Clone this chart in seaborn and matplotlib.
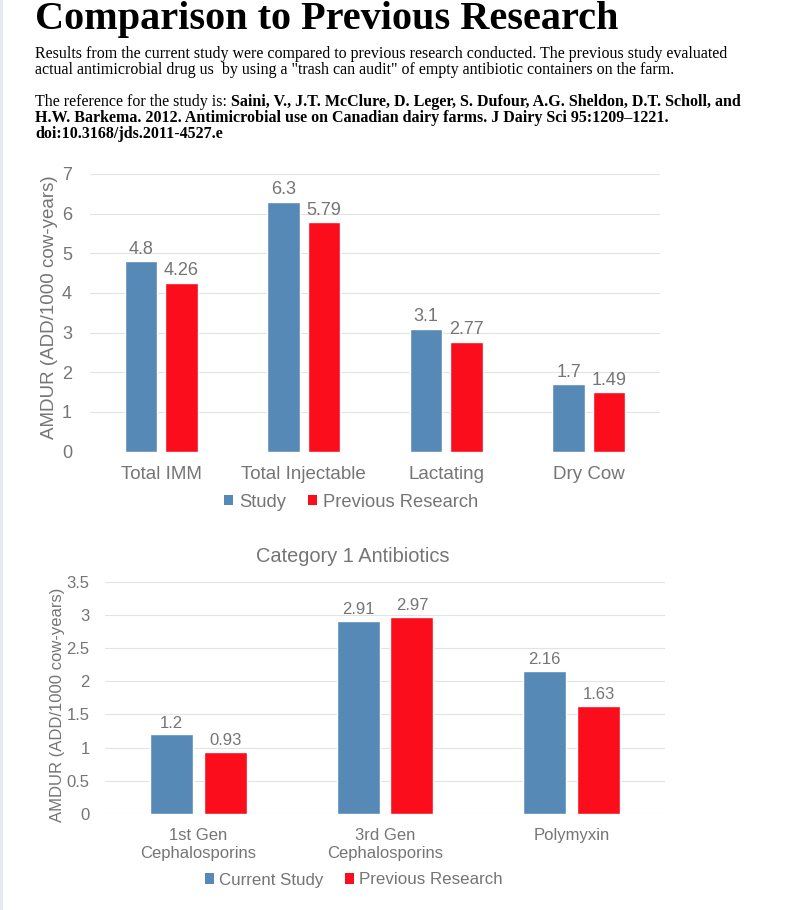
import matplotlib
matplotlib.use("Agg")
import matplotlib.pyplot as plt
import seaborn as sns
import pandas as pd
from matplotlib.patches import Patch, Rectangle

# ---------------- data ----------------
categories1 = ["Total IMM", "Total Injectable", "Lactating", "Dry Cow"]
series1 = ["Study", "Previous Research"]
study1 = [4.8, 6.3, 3.1, 1.7]
previous1 = [4.26, 5.79, 2.77, 1.49]
yticks1 = [0, 1, 2, 3, 4, 5, 6, 7]

categories2 = ["1st Gen\nCephalosporins", "3rd Gen\nCephalosporins", "Polymyxin"]
series2 = ["Current Study", "Previous Research"]
study2 = [1.2, 2.91, 2.16]
previous2 = [0.93, 2.97, 1.63]
yticks2 = [0, 0.5, 1, 1.5, 2, 2.5, 3, 3.5]
ytick_labels2 = ["0", "0.5", "1", "1.5", "2", "2.5", "3", "3.5"]

title = "Comparison to Previous Research"
body1 = "Results from the current study were compared to previous research conducted. The previous study evaluated"
body2 = 'actual antimicrobial drug us  by using a "trash can audit" of empty antibiotic containers on the farm.'
ref_intro = "The reference for the study is:"
ref_bold = ["Saini, V., J.T. McClure, D. Leger, S. Dufour, A.G. Sheldon, D.T. Scholl, and",
            "H.W. Barkema. 2012. Antimicrobial use on Canadian dairy farms. J Dairy Sci 95:1209\u20131221.",
            "doi:10.3168/jds.2011-4527.e"]
chart2_title = "Category 1 Antibiotics"
ylabel = "AMDUR (ADD/1000 cow-years)"

# ---------------- style ----------------
BLUE = "#5689b6"
RED = "#fb0d1c"
GRAY = "#757575"
GRID = "#e3e3e3"

sns.set_theme(style="white")
plt.rcParams["font.family"] = ["Liberation Sans", "DejaVu Sans"]

W, H = 803, 910
fig = plt.figure(figsize=(W / 100, H / 100), dpi=100)
fig.patch.set_facecolor("white")

# left page strip
fig.add_artist(Rectangle((0, 0), 3 / W, 1, transform=fig.transFigure,
                         facecolor="#e6eaf0", edgecolor="none"))

SERIF = ["Liberation Serif", "DejaVu Serif"]
fig.text(35 / W, 1 - 29 / H, title, family=SERIF, fontsize=29, fontweight="bold",
         color="black", ha="left", va="baseline")
fig.text(35 / W, 1 - 58 / H, body1, family=SERIF, fontsize=11.5, color="black",
         ha="left", va="baseline")
fig.text(35 / W, 1 - 74 / H, body2, family=SERIF, fontsize=11.5, color="black",
         ha="left", va="baseline")
t_intro = fig.text(35 / W, 1 - 106 / H, ref_intro, family=SERIF, fontsize=11.5,
                   color="black", ha="left", va="baseline")
fig.canvas.draw()
r = fig.canvas.get_renderer()
bb = t_intro.get_window_extent(renderer=r)
x_after = bb.x1 + 4
fig.text(x_after / W, 1 - 106 / H, ref_bold[0], family=SERIF, fontsize=11.5,
         fontweight="bold", color="black", ha="left", va="baseline")
fig.text(35 / W, 1 - 122 / H, ref_bold[1], family=SERIF, fontsize=11.5,
         fontweight="bold", color="black", ha="left", va="baseline")
fig.text(35 / W, 1 - 138 / H, ref_bold[2], family=SERIF, fontsize=11.5,
         fontweight="bold", color="black", ha="left", va="baseline")


def style_axes(ax, yticks, ytl, ylim, fs_y, fs_x, ypad, xpad):
    ax.set_ylim(*ylim)
    ax.set_yticks(yticks)
    ax.set_yticklabels(ytl)
    for s in ax.spines.values():
        s.set_visible(False)
    ax.grid(False)
    for v in yticks:
        ax.axhline(v, color=GRID, lw=0.8, zorder=0)
    ax.tick_params(axis="both", length=0, colors=GRAY)
    ax.tick_params(axis="y", pad=ypad, labelsize=fs_y)
    ax.tick_params(axis="x", pad=xpad, labelsize=fs_x)
    ax.set_xlabel("")
    ax.set_facecolor("none")


# ---------------- chart 1 ----------------
ax1 = fig.add_axes([90 / W, 1 - 451.5 / H, 570 / W, 277.5 / H])
df1 = pd.DataFrame({"category": categories1 * 2,
                    "value": study1 + previous1,
                    "series": [series1[0]] * len(categories1) + [series1[1]] * len(categories1)})
sns.barplot(data=df1, x="category", y="value", hue="series", hue_order=series1,
            palette=[BLUE, RED], width=0.566, gap=0.2, ax=ax1, legend=False,
            saturation=1, zorder=2)
ax1.set_xlim(-0.5, len(categories1) - 0.5)
style_axes(ax1, yticks1, [str(v) for v in yticks1], (0, 7), 13, 13.5, 13, 10.3)
ax1.set_ylabel(ylabel, color=GRAY, fontsize=13.5)
ax1.yaxis.set_label_coords(-0.0561, 0.519)
for cont in ax1.containers:
    for rect in cont:
        h = rect.get_height()
        ax1.annotate(f"{h:g}", (rect.get_x() + rect.get_width() / 2, h),
                     xytext=(0, 5.3), textcoords="offset points", ha="center",
                     va="baseline", fontsize=13, color=GRAY)

handles1 = [Patch(facecolor=BLUE, edgecolor="none"), Patch(facecolor=RED, edgecolor="none")]
fig.legend(handles1, series1, loc="center", bbox_to_anchor=(351 / W, 1 - 502 / H),
           ncol=2, frameon=False, fontsize=13.2, labelcolor=GRAY,
           handlelength=0.52, handleheight=0.52, handletextpad=0.3,
           columnspacing=1.2, borderpad=0, borderaxespad=0)

# ---------------- chart 2 ----------------
fig.text(353 / W, 1 - 556 / H, chart2_title, ha="center", va="center",
         fontsize=14.4, color=GRAY)
ax2 = fig.add_axes([105 / W, 1 - 814 / H, 560 / W, 232.3 / H])
df2 = pd.DataFrame({"category": categories2 * 2,
                    "value": study2 + previous2,
                    "series": [series2[0]] * len(categories2) + [series2[1]] * len(categories2)})
sns.barplot(data=df2, x="category", y="value", hue="series", hue_order=series2,
            palette=[BLUE, RED], width=0.576, gap=0.2, ax=ax2, legend=False,
            saturation=1, zorder=2)
ax2.set_xlim(-0.5, len(categories2) - 0.5)
style_axes(ax2, yticks2, ytick_labels2, (0, 3.5), 12, 12, 11, 10.3)
ax2.set_ylabel(ylabel, color=GRAY, fontsize=12)
ax2.yaxis.set_label_coords(-0.0714, 0.471)
for cont in ax2.containers:
    for rect in cont:
        h = rect.get_height()
        ax2.annotate(f"{h:g}", (rect.get_x() + rect.get_width() / 2, h),
                     xytext=(0, 4.9), textcoords="offset points", ha="center",
                     va="baseline", fontsize=12, color=GRAY)

handles2 = [Patch(facecolor=BLUE, edgecolor="none"), Patch(facecolor=RED, edgecolor="none")]
fig.legend(handles2, series2, loc="center", bbox_to_anchor=(354 / W, 1 - 880 / H),
           ncol=2, frameon=False, fontsize=12.2, labelcolor=GRAY,
           handlelength=0.55, handleheight=0.55, handletextpad=0.3,
           columnspacing=1.25, borderpad=0, borderaxespad=0)

fig.savefig("out.png", dpi=100, facecolor="white")
